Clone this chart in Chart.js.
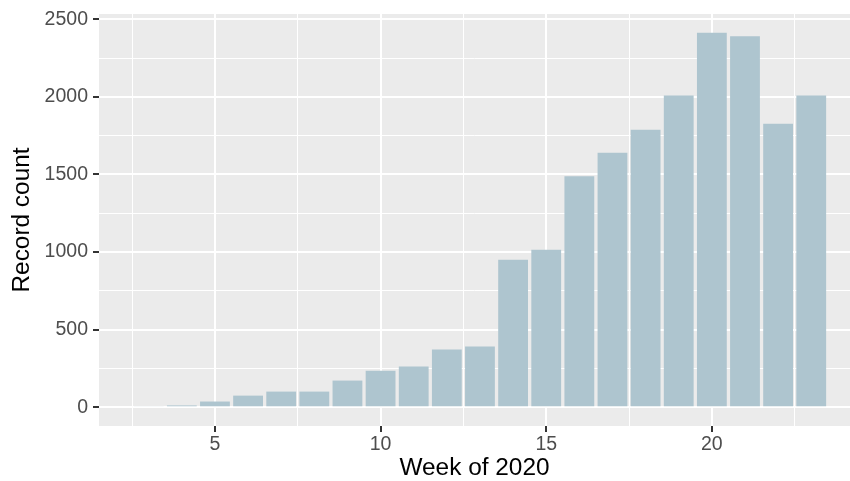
<!DOCTYPE html>
<html>
<head>
<meta charset="utf-8">
<script src="https://cdn.jsdelivr.net/npm/chart.js@4"></script>
<style>
  html, body { margin: 0; padding: 0; background: #fff; }
  canvas { display: block; }
</style>
</head>
<body>
<canvas id="weekChart" width="850" height="481"></canvas>
<script>
// Records per week of 2020
const weeks = [3, 4, 5, 6, 7, 8, 9, 10, 11, 12, 13, 14, 15, 16, 17, 18, 19, 20, 21, 22, 23];
const counts = [7, 12, 37, 75, 101, 101, 172, 236, 262, 372, 391, 951, 1015, 1488, 1640, 1788, 2008, 2413, 2390, 1826, 2008];

// major + minor break positions (ggplot style)
const xTicks = [2.5, 5, 7.5, 10, 12.5, 15, 17.5, 20, 22.5];
const xMajor = [5, 10, 15, 20];
const yTicks = [0, 250, 500, 750, 1000, 1250, 1500, 1750, 2000, 2250, 2500];
const yMajor = [0, 500, 1000, 1500, 2000, 2500];

const PANEL = '#EBEBEB';
const BAR = '#AEC5CF';
const TICK_TEXT = '#4D4D4D';
const FONT = 'Liberation Sans, Arial, Helvetica, sans-serif';

// grey panel behind the grid
const panelBg = {
    id: 'panelBg',
    beforeDraw(chart) {
        const { ctx, chartArea: a } = chart;
        ctx.save();
        ctx.fillStyle = PANEL;
        ctx.fillRect(a.left, a.top, a.right - a.left, a.bottom - a.top);
        ctx.restore();
    }
};

const isMajor = (list, v) => list.includes(v);

function gridFor(major) {
    return {
        color: '#FFFFFF',
        lineWidth: c => isMajor(major, c.tick.value) ? 2 : 1,
        tickColor: c => isMajor(major, c.tick.value) ? '#333333' : 'rgba(0,0,0,0)',
        tickWidth: 2,
        tickLength: 6,
        offset: false
    };
}

// fixed axis boxes, no label overflow padding
function fixBox(s, size) {
    if (s.isHorizontal()) s.height = size; else s.width = size;
    s.paddingTop = 0;
    s.paddingBottom = 0;
    s.paddingLeft = 0;
    s.paddingRight = 0;
}

new Chart(document.getElementById('weekChart'), {
    type: 'bar',
    data: {
        datasets: [{
            data: weeks.map((w, i) => ({ x: w, y: counts[i] })),
            backgroundColor: BAR,
            borderWidth: 0,
            minBarLength: 1,
            barPercentage: 0.9,
            categoryPercentage: 1
        }]
    },
    options: {
        responsive: false,
        animation: false,
        layout: { padding: { top: 14, right: 0, left: 0, bottom: 0 } },
        plugins: {
            legend: { display: false },
            tooltip: { enabled: false }
        },
        scales: {
            x: {
                type: 'linear',
                min: 1.5,
                max: 24.17,
                offset: false,
                afterBuildTicks: s => { s.ticks = xTicks.map(v => ({ value: v })); },
                afterFit: s => fixBox(s, 55),
                grid: gridFor(xMajor),
                border: { display: false },
                ticks: {
                    autoSkip: false,
                    maxRotation: 0,
                    padding: 0.5,
                    color: TICK_TEXT,
                    font: { family: FONT, size: 19.5 },
                    callback: v => isMajor(xMajor, v) ? String(v) : ''
                },
                title: {
                    display: true,
                    text: 'Week of 2020',
                    color: '#000000',
                    padding: { top: 0, bottom: -1.5 },
                    font: { family: FONT, size: 24.4 }
                }
            },
            y: {
                min: -120.65,
                max: 2533.65,
                afterBuildTicks: s => { s.ticks = yTicks.map(v => ({ value: v })); },
                afterFit: s => fixBox(s, 99),
                grid: gridFor(yMajor),
                border: { display: false },
                ticks: {
                    autoSkip: false,
                    padding: 5,
                    color: TICK_TEXT,
                    font: { family: FONT, size: 19.5 },
                    callback: v => isMajor(yMajor, v) ? String(v) : ''
                },
                title: {
                    display: true,
                    text: 'Record count',
                    color: '#000000',
                    padding: { top: 8, bottom: 0 },
                    font: { family: FONT, size: 24.4 }
                }
            }
        }
    },
    plugins: [panelBg]
});
</script>
</body>
</html>
